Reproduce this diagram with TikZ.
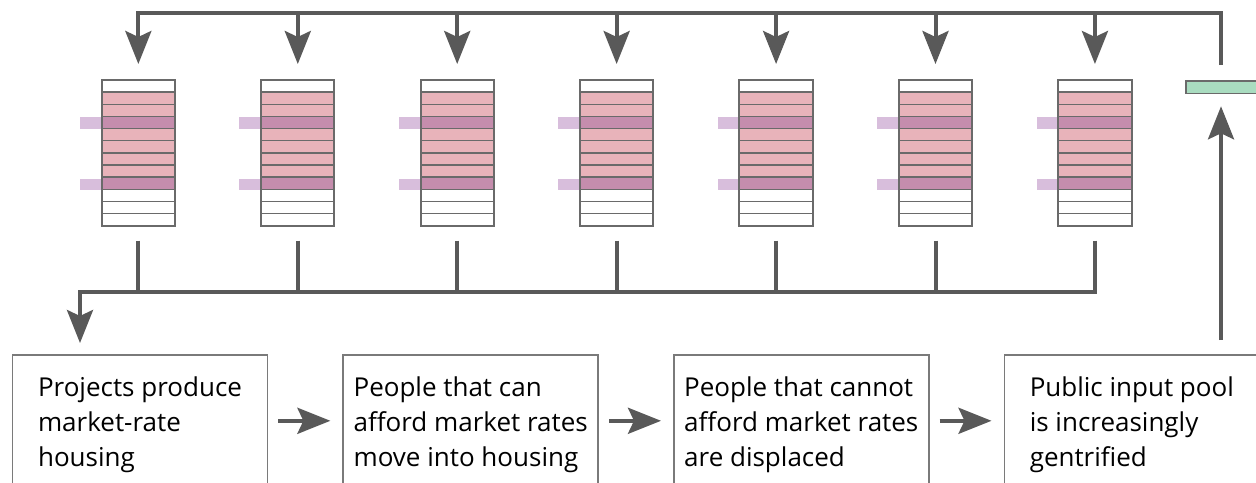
\documentclass[tikz,border=0pt]{standalone}
\usepackage{fontspec}
\setmainfont{Open Sans}
\usetikzlibrary{arrows.meta}
\definecolor{ln}{HTML}{595959}
\definecolor{bx}{HTML}{7A7A7A}
\definecolor{pinkrow}{HTML}{E8B3BA}
\definecolor{mauverow}{HTML}{C58DAD}
\definecolor{tabc}{HTML}{D8BEDC}
\definecolor{grn}{HTML}{A9DCC0}
\definecolor{bdr}{HTML}{6A6A6A}
\begin{document}
\begin{tikzpicture}[x=0.5pt,y=-0.5pt,
  line/.style={draw=ln,line width=2pt},
  arr/.style={line,-{Stealth[length=16.5pt,width=13pt,inset=3pt]}},
  building/.style={draw=bdr,line width=1pt,minimum width=36.65pt,minimum height=72.85pt,inner sep=0pt},
  stepbox/.style={draw=bx,line width=0.8pt,minimum width=127.5pt,minimum height=70pt,align=left,inner sep=0pt,font=\fontsize{13}{17.5}\selectfont},
  rowline/.style={draw=bdr,line width=0.7pt},
]
\useasboundingbox (0,0) rectangle (1256,482);
\clip (0,0) rectangle (1256,482);
\fill[white] (0,0) rectangle (1256,482);
% buildings
\foreach \i in {1,...,7} {
  \pgfmathsetmacro\cx{138.35+(\i-1)*159.43}
  \foreach \r/\c in {1/white,2/pinkrow,3/pinkrow,4/mauverow,5/pinkrow,6/pinkrow,7/pinkrow,8/pinkrow,9/mauverow,10/white,11/white,12/white}
    \filldraw[fill=\c,rowline] (\cx-36.65,{80+(\r-1)*12.14}) rectangle (\cx+36.65,{80+\r*12.14});
  \fill[tabc] (\cx-58.35,117.4) rectangle (\cx-36.65,129.3);
  \fill[tabc] (\cx-58.35,178.5) rectangle (\cx-36.65,190.2);
  \node[building] (b\i) at (\cx,152.85) {};
}
% green bar
\node[fill=grn,draw=bdr,line width=0.8pt,minimum width=45pt,minimum height=6.35pt,inner sep=0pt,anchor=north west] (g) at (1185,80) {};
% top distribution
\coordinate (tr) at (1221,13);
\coordinate (gtop) at (g.north -| tr);
\draw[arr,shorten >=7.5pt] ([yshift=7.5pt]gtop) -- (tr) -- (tr -| b1.north) -- (b1.north);
\foreach \i in {2,...,7}
  \draw[arr,shorten >=7.5pt] (b\i.north |- tr) -- (b\i.north);
% boxes
\node[stepbox,anchor=north west] (p1) at (11.7,354) {Projects produce\\market-rate\\housing};
\node[stepbox,anchor=north west] (p2) at (342.4,354) {People that can\\afford market rates\\move into housing};
\node[stepbox,anchor=north west] (p3) at (673.0,354) {People that cannot\\afford market rates\\are displaced};
\node[stepbox,anchor=north west] (p4) at (1003.5,354) {Public input pool\\is increasingly\\gentrified};
% bottom collection
\coordinate (bl) at (80,292);
\foreach \i in {1,...,6}
  \draw[line,shorten <=7pt] (b\i.south) -- (b\i.south |- bl);
\draw[arr,shorten <=7pt,shorten >=5.5pt] (b7.south) -- (b7.south |- bl) -- (bl) -- (p1.north -| bl);
% step arrows
\draw[arr,shorten <=5pt,shorten >=6pt] ([yshift=2pt]p1.east) -- ([yshift=2pt]p2.west);
\draw[arr,shorten <=5pt,shorten >=6pt] ([yshift=2pt]p2.east) -- ([yshift=2pt]p3.west);
\draw[arr,shorten <=5pt,shorten >=6pt] ([yshift=2pt]p3.east) -- ([yshift=2pt]p4.west);
% feedback arrow
\coordinate (ux) at (1221,0);
\draw[arr,shorten <=7pt,shorten >=6pt] (p4.north -| ux) -- (g.south -| ux);
\end{tikzpicture}
\end{document}
